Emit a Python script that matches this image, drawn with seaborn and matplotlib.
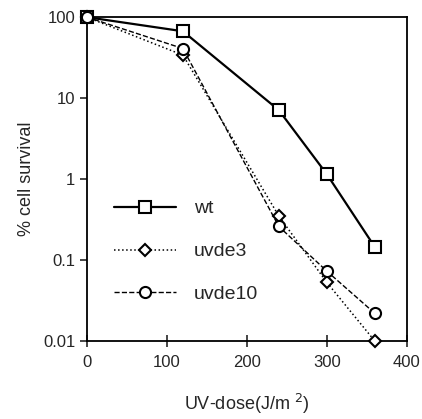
import numpy as np
import pandas as pd
import matplotlib
matplotlib.use('Agg')
import matplotlib.pyplot as plt
import seaborn as sns

# values
dose = [0, 120, 240, 300, 360]
wt = [100, 67, 7.1, 1.15, 0.145]
uvde3 = [100, 34, 0.35, 0.053, 0.01]
uvde10 = [100, 41, 0.26, 0.073, 0.022]

sns.set_style('ticks')
plt.rcParams['font.family'] = ['Liberation Sans', 'DejaVu Sans']

fig = plt.figure(figsize=(4.22, 4.19), dpi=100)
ax = fig.add_axes([0.206, 0.186, 0.758, 0.773])

series = [('wt', wt, '-', 's', 1.6, 9),
          ('uvde3', uvde3, ':', 'D', 1.1, 6),
          ('uvde10', uvde10, '--', 'o', 1.0, 8)]

for name, vals, ls, mk, lw, ms in series:
    df = pd.DataFrame({'dose': dose, 'surv': vals})
    sns.lineplot(data=df, x='dose', y='surv', ax=ax, color='black',
                 linestyle=ls, linewidth=lw, marker=mk, markersize=ms,
                 markerfacecolor='white', markeredgecolor='black',
                 markeredgewidth=1.5, label=name, clip_on=False, zorder=3)

ax.set_yscale('log')
ax.set_xlim(0, 400)
ax.set_ylim(0.01, 100)
ax.set_xticks([0, 100, 200, 300, 400])
ax.set_yticks([0.01, 0.1, 1, 10, 100])
ax.set_yticklabels(['0.01', '0.1', '1', '10', '100'])
ax.yaxis.set_minor_locator(matplotlib.ticker.NullLocator())
ax.tick_params(axis='x', direction='inout', length=8, width=1.2, labelsize=12, pad=6)
ax.tick_params(axis='y', direction='out', length=5, width=1.2, labelsize=12)
for sp in ax.spines.values():
    sp.set_linewidth(1.3)
    sp.set_color('black')

ax.set_xlabel('UV-dose(J/m $^{2}$)', fontsize=13, labelpad=16)
ax.set_ylabel('% cell survival', fontsize=13, labelpad=6)

leg = ax.legend(loc='upper left', bbox_to_anchor=(0.03, 0.49), frameon=False,
                fontsize=14, handlelength=3.2, labelspacing=1.3, handletextpad=0.9)

fig.savefig('out.png', dpi=100)
